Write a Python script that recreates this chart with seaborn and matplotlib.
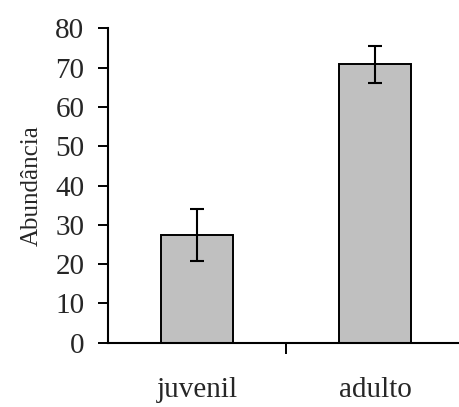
import pandas as pd
import matplotlib.pyplot as plt
import seaborn as sns

# Abundance by age class (mean and error)
categorias = ['juvenil', 'adulto']
abundancia = [27.5, 70.8]
erro = [6.6, 4.8]

df = pd.DataFrame({'classe': categorias, 'abundancia': abundancia})

sns.set_style('white')
plt.rcParams['font.family'] = ['Liberation Serif', 'DejaVu Serif']

fig = plt.figure(figsize=(4.59, 4.07), dpi=100)
ax = fig.add_axes([108 / 459, 64.3 / 407, 356 / 459, 314.4 / 407])

sns.barplot(x='classe', y='abundancia', data=df, color='#C0C0C0', saturation=1,
            edgecolor='black', linewidth=1.4, width=0.405, errorbar=None, ax=ax)
ax.errorbar(x=[0, 1], y=abundancia, yerr=erro, fmt='none', ecolor='black',
            elinewidth=1.5, capsize=5, capthick=1.5)

ax.set_ylim(0, 80)
ax.set_xlim(-0.5, 1.5)
ax.set_yticks(range(0, 81, 10))

# category names as minor ticks, a single separator tick between them
ax.set_xticks([0.5])
ax.set_xticklabels([''])
ax.set_xticks([0, 1], minor=True)
ax.set_xticklabels(categorias, minor=True)
ax.tick_params(axis='x', which='major', direction='out', length=8, width=1.4, color='black', bottom=True)
ax.tick_params(axis='x', which='minor', length=0, pad=25, labelsize=21)
ax.tick_params(axis='y', direction='out', length=7, width=1.4, color='black', left=True, pad=10, labelsize=21)

sns.despine(ax=ax)
for s in ['left', 'bottom']:
    ax.spines[s].set_color('black')
    ax.spines[s].set_linewidth(1.5)

ax.set_xlabel('')
ax.set_ylabel('Abundância', fontsize=18, labelpad=9)

plt.savefig('out.png', dpi=100)
